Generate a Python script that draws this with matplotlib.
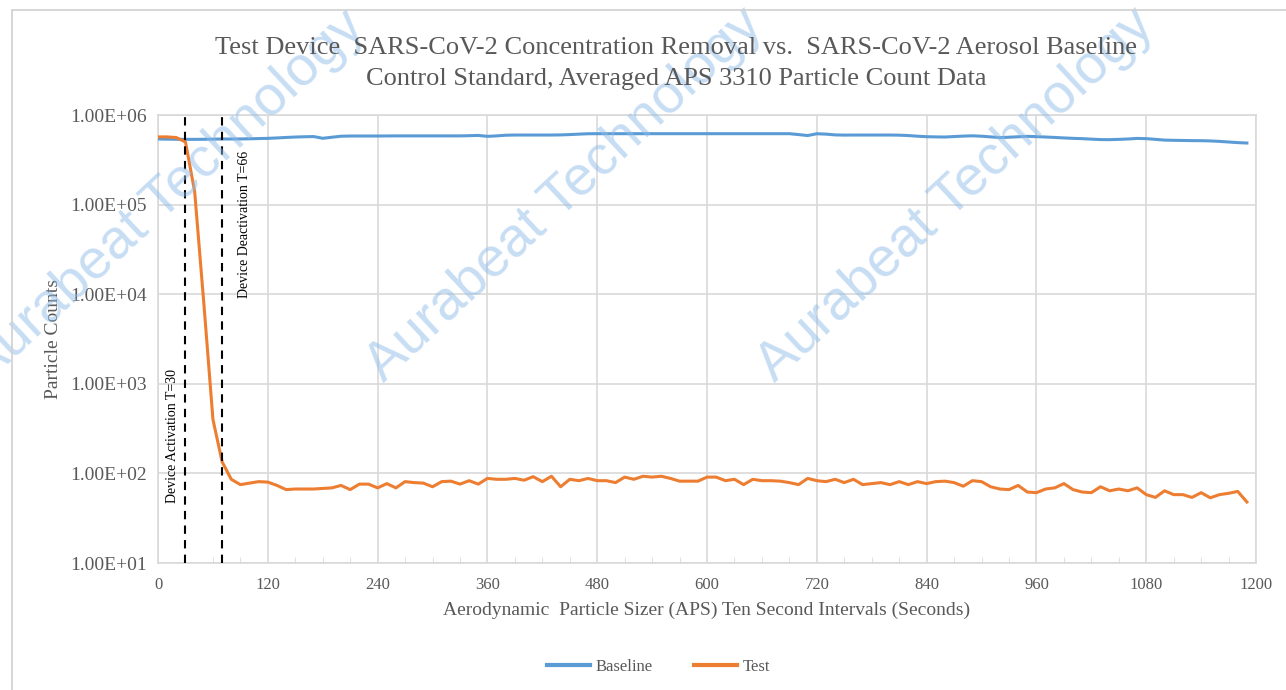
"""Rebuild of the APS particle count chart (baseline vs test device)."""

import matplotlib
matplotlib.use("Agg")
import matplotlib.pyplot as plt
from matplotlib.patches import Rectangle
from matplotlib.ticker import FixedLocator, MultipleLocator

# time axis, one APS reading every 10 s
seconds = list(range(0, 1200, 10))

baseline = [
    540000, 538000, 536000, 535000, 535000, 536000, 538000, 540000, 540000, 541000, 543000, 546000,
    549000, 555000, 562000, 568000, 572000, 575000, 550000, 565000, 580000, 583000, 583000, 583000,
    583000, 584000, 585000, 585000, 585000, 585000, 585000, 585000, 585000, 585000, 588000, 592000,
    578000, 585000, 595000, 598000, 598000, 598000, 598000, 598000, 600000, 605000, 612000, 618000,
    619000, 619000, 619000, 619000, 619000, 619000, 619000, 619000, 619000, 619000, 619000, 619000,
    619000, 619000, 619000, 619000, 619000, 619000, 619000, 619000, 619000, 619000, 605000, 590000,
    618000, 612000, 600000, 597000, 598000, 598000, 598000, 598000, 598000, 596000, 590000, 580000,
    573000, 570000, 568000, 575000, 582000, 586000, 580000, 570000, 560000, 565000, 572000, 578000,
    574000, 568000, 562000, 555000, 549000, 545000, 538000, 532000, 531000, 535000, 540000, 548000,
    545000, 535000, 525000, 522000, 520000, 518000, 517000, 514000, 508000, 500000, 492000, 487000,
]

test = [
    570000, 570000, 560000, 500000, 140000, 8000, 400, 135, 86, 75, 78, 81,
    80, 73.5, 66, 67, 67, 67, 68, 69, 73.5, 66, 76, 76,
    69, 77, 69, 81, 79, 78, 71, 81, 82, 76, 83, 76,
    88, 86, 86, 88, 84, 92, 81, 93, 71, 86, 83, 88,
    83, 83, 79, 91, 86, 93, 91, 93, 88, 82, 82, 82,
    91, 91, 83, 86, 75, 86, 83, 83, 82, 79, 75, 88,
    83, 81, 86, 79, 86, 75, 77, 79, 75, 81, 75, 81,
    77, 81, 82, 79, 72, 83, 81, 71, 67, 66, 73.5, 62,
    61, 67, 69, 77, 66, 62, 61, 71, 64, 67, 64, 69,
    58, 54, 64, 58, 58, 54, 61, 53.5, 58, 60, 63, 48,
]

events = [30, 70]
event_labels = ["Device Activation T=30", "Device Deactivation T=66"]
y_ticks = [1e1, 1e2, 1e3, 1e4, 1e5, 1e6]
y_tick_labels = ["1.00E+01", "1.00E+02", "1.00E+03", "1.00E+04", "1.00E+05", "1.00E+06"]

SERIF = ["Liberation Serif", "DejaVu Serif"]
GREY_TXT = "#595959"
GRID = "#D9D9D9"

fig = plt.figure(figsize=(12.86, 6.90), dpi=100)
ax = fig.add_axes([0.1229, 0.184, 0.8538, 0.6493])

# watermark
for cx, cy in [(0.130, 0.714), (0.439, 0.717), (0.743, 0.717)]:
    fig.text(cx, cy, "Aurabeat Technology", rotation=43, fontsize=40,
             family="Liberation Sans", color="#8FBCE8", alpha=0.5,
             ha="center", va="center", rotation_mode="anchor", zorder=0)

# chart border
fig.patches.append(Rectangle((0.0093, -0.01), 1.2, 0.996, transform=fig.transFigure,
                             fill=False, edgecolor="#D0D0D0", linewidth=1.2))

ax.plot(seconds, baseline, color="#5B9BD5", linewidth=2.2, label="Baseline", zorder=3)
ax.plot(seconds, test, color="#ED7D31", linewidth=2.2, label="Test", zorder=3)

for ev in events:
    ax.axvline(ev, color="black", linestyle=(0, (4, 3)), linewidth=1.5, zorder=4)

ax.text(events[0] - 14, 10 ** 2.42, event_labels[0], rotation=90, family=SERIF,
        fontsize=10, ha="center", va="center")
ax.text(events[1] + 25, 10 ** 4.78, event_labels[1], rotation=90, family=SERIF,
        fontsize=10, ha="center", va="center")

ax.set_yscale("log")
ax.set_xlim(0, 1200)
ax.set_ylim(1e1, 1e6)
ax.xaxis.set_major_locator(MultipleLocator(120))
ax.xaxis.set_minor_locator(MultipleLocator(30))
ax.yaxis.set_major_locator(FixedLocator(y_ticks))
ax.yaxis.set_minor_locator(FixedLocator([]))
ax.set_yticklabels(y_tick_labels)

ax.grid(True, which="major", color=GRID, linewidth=1.2)
for sp in ax.spines.values():
    sp.set_color(GRID)
    sp.set_linewidth(1.2)
ax.tick_params(axis="both", which="both", colors=GRID, labelcolor=GREY_TXT, labelsize=12)
ax.tick_params(axis="x", which="major", direction="in", length=0, pad=10)
ax.tick_params(axis="x", which="minor", direction="in", length=4)
ax.tick_params(axis="y", length=0, pad=8, labelsize=14)
for lab in ax.get_xticklabels() + ax.get_yticklabels():
    lab.set_family(SERIF)

ax.set_xlabel("Aerodynamic  Particle Sizer (APS) Ten Second Intervals (Seconds)",
              family=SERIF, fontsize=14, color=GREY_TXT, labelpad=6)
ax.set_ylabel("Particle Counts", family=SERIF, fontsize=14, color=GREY_TXT, labelpad=6)

fig.text(0.526, 0.931, "Test Device  SARS-CoV-2 Concentration Removal vs.  SARS-CoV-2 Aerosol Baseline",
         family=SERIF, fontsize=19, color=GREY_TXT, ha="center", va="center")
fig.text(0.526, 0.885, "Control Standard, Averaged APS 3310 Particle Count Data",
         family=SERIF, fontsize=19, color=GREY_TXT, ha="center", va="center")

leg = fig.legend(loc="center", bbox_to_anchor=(0.512, 0.033), ncol=2, frameon=False,
                 prop={"family": SERIF, "size": 12}, handlelength=2.6, columnspacing=2.5,
                 handletextpad=0.3)
for t in leg.get_texts():
    t.set_color(GREY_TXT)
for line in leg.get_lines():
    line.set_linewidth(3)

fig.savefig("out.png", dpi=100)
